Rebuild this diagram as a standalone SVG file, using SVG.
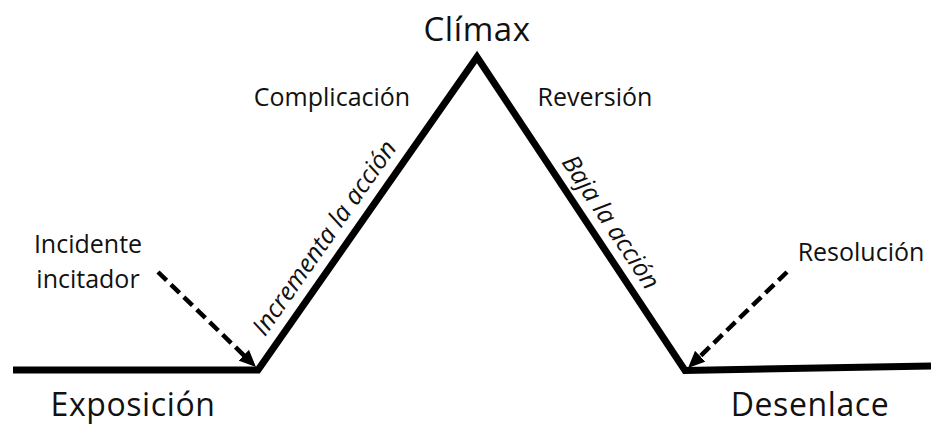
<svg xmlns="http://www.w3.org/2000/svg" width="931" height="425" viewBox="0 0 931 425">
  <style>
    .lbl { font-family: "Open Sans", "Noto Sans", "Liberation Sans", sans-serif; fill: #111; text-anchor: middle; }
    .big { font-size: 32px; letter-spacing: 0.6px; }
    .mid { font-size: 25px; }
    .ital { font-size: 25px; font-style: italic; }
    .plot { fill: none; stroke: #000; stroke-width: 7; stroke-linejoin: miter; stroke-miterlimit: 10; }
    .dash { fill: none; stroke: #000; stroke-width: 4.5; stroke-dasharray: 12 6; }
  </style>
  <defs>
    <marker id="head" viewBox="0 0 17 15" refX="2" refY="7.5" markerWidth="17" markerHeight="15" markerUnits="userSpaceOnUse" orient="auto">
      <path d="M0,0 L17,7.5 L0,15 z" fill="#000"/>
    </marker>
  </defs>
  <rect width="931" height="425" fill="#fff"/>
  <g id="connectors">
    <polyline class="plot" points="13,370 258,370 477,57 685,370.5 931,366"/>
    <line class="dash" x1="158" y1="272" x2="245.2" y2="356.6" marker-end="url(#head)"/>
    <line class="dash" x1="787" y1="272" x2="698.8" y2="357.6" marker-end="url(#head)"/>
  </g>
  <g id="climax"><text class="lbl big" x="477" y="41" style="font-size:33px">Clímax</text></g>
  <g id="complicacion"><text class="lbl mid" x="332" y="106">Complicación</text></g>
  <g id="reversion"><text class="lbl mid" x="595" y="106">Reversión</text></g>
  <g id="incidente"><text class="lbl mid" x="88" y="253">Incidente</text><text class="lbl mid" x="88" y="288">incitador</text></g>
  <g id="resolucion"><text class="lbl mid" x="861" y="261">Resolución</text></g>
  <g id="exposicion"><text class="lbl big" x="133" y="416">Exposición</text></g>
  <g id="desenlace"><text class="lbl big" x="810" y="416">Desenlace</text></g>
  <g id="incrementa"><text class="lbl ital" transform="translate(331.3,242.6) rotate(-55)">Incrementa la acción</text></g>
  <g id="baja"><text class="lbl ital" transform="translate(603.7,226.8) rotate(56.5)">Baja la acción</text></g>
</svg>
